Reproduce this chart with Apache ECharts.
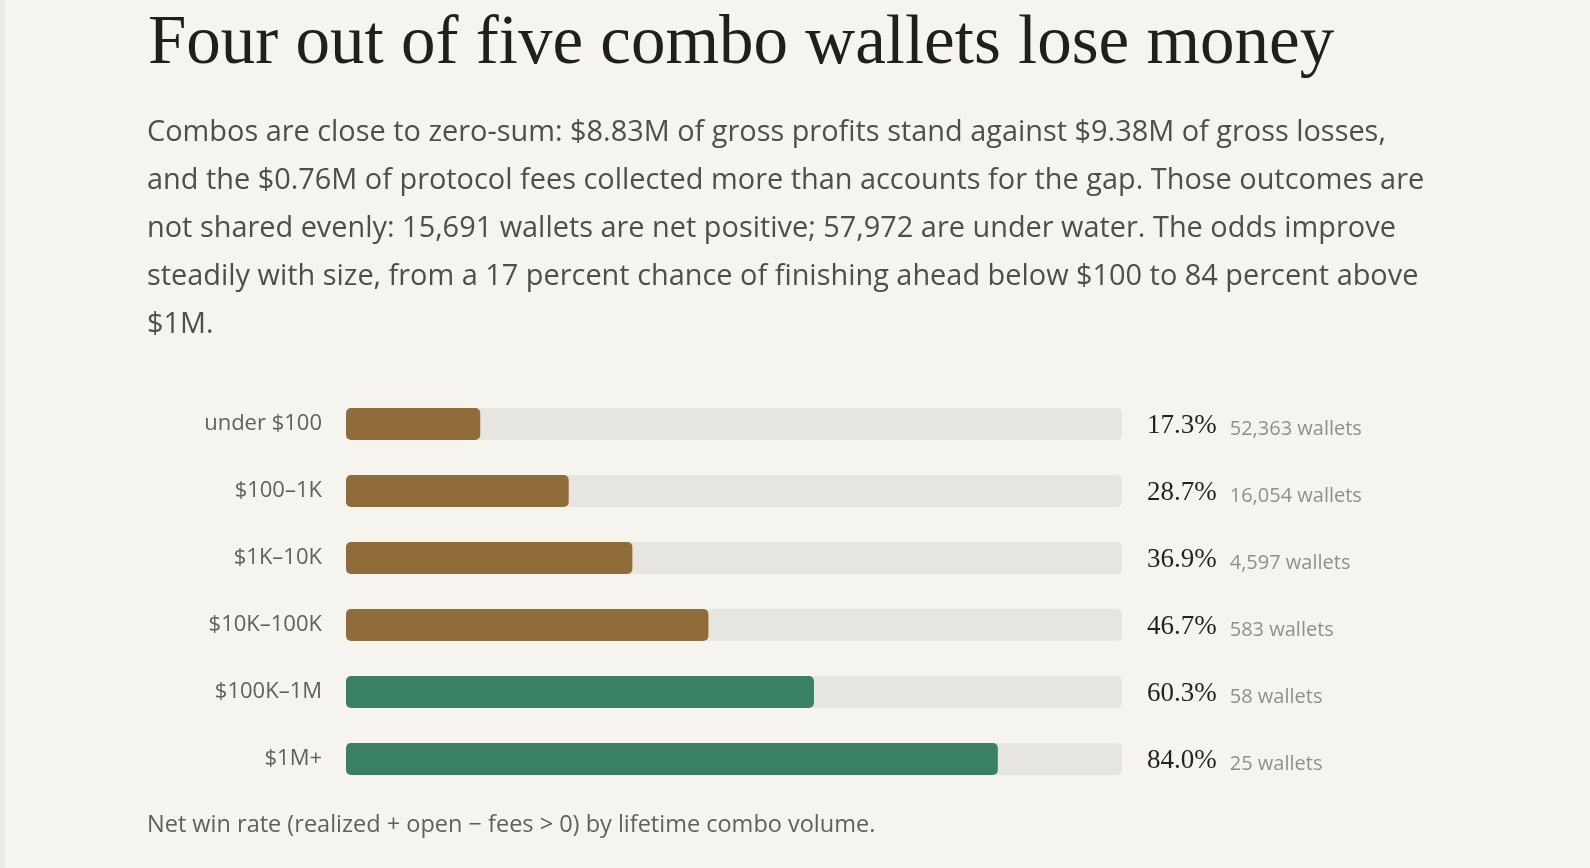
<!DOCTYPE html>
<html>
<head>
<meta charset="utf-8">
<script src="https://cdn.jsdelivr.net/npm/echarts@6/dist/echarts.min.js"></script>
<style>
  html, body { margin: 0; padding: 0; background: #f5f4ef; }
  #chart { width: 1590px; height: 868px; box-shadow: inset 5px 0 0 #ebeae5; }
</style>
</head>
<body>
<div id="chart"></div>
<script>
var categories = ['under $100', '$100–1K', '$1K–10K', '$10K–100K', '$100K–1M', '$1M+'];
var winRates = [17.3, 28.7, 36.9, 46.7, 60.3, 84.0];
var walletCounts = ['52,363', '16,054', '4,597', '583', '58', '25'];

var titleText = 'Four out of five combo wallets lose money';
var bodyLines = [
    'Combos are close to zero-sum: $8.83M of gross profits stand against $9.38M of gross losses,',
    'and the $0.76M of protocol fees collected more than accounts for the gap. Those outcomes are',
    'not shared evenly: 15,691 wallets are net positive; 57,972 are under water. The odds improve',
    'steadily with size, from a 17 percent chance of finishing ahead below $100 to 84 percent above',
    '$1M.'
];
var noteText = 'Net win rate (realized + open − fees > 0) by lifetime combo volume.';

var sans = '"Open Sans", "Noto Sans", sans-serif';
var serif = '"Liberation Serif", serif';

var chart = echarts.init(document.getElementById('chart'));
var option = {
    title: [{
        text: titleText,
        left: 143,
        top: 5,
        textStyle: { fontFamily: serif, fontSize: 69, fontWeight: 'normal', color: '#1c211c' }
    }, {
        text: bodyLines.join('\n'),
        left: 142,
        top: 104,
        textStyle: { fontFamily: sans, fontSize: 28.9, fontWeight: 'normal', color: '#4b504a', lineHeight: 48 }
    }, {
        text: noteText,
        left: 142,
        top: 808,
        textStyle: { fontFamily: sans, fontSize: 23.5, fontWeight: 'normal', color: '#5d625b' }
    }],
    grid: {
        left: 346,
        right: 468,
        top: 390.5,
        height: 402,
        containLabel: false
    },
    xAxis: {
        type: 'value',
        min: 0,
        max: 100,
        show: false
    },
    yAxis: [{
        type: 'category',
        data: categories,
        inverse: true,
        axisLine: { show: false },
        axisTick: { show: false },
        axisLabel: { margin: 24, fontFamily: sans, fontSize: 22, color: '#5d625b' }
    }, {
        type: 'category',
        position: 'right',
        data: categories,
        inverse: true,
        axisLine: { show: false },
        axisTick: { show: false },
        axisLabel: {
            margin: 25,
            align: 'left',
            padding: [3, 0, 0, 0],
            formatter: function (val, i) {
                return '{p|' + winRates[i].toFixed(1) + '%}{w|' + walletCounts[i] + ' wallets}';
            },
            rich: {
                p: { fontFamily: serif, fontSize: 27, lineHeight: 27, color: '#1f241f', verticalAlign: 'bottom' },
                w: { fontFamily: sans, fontSize: 20, lineHeight: 20, color: '#8e918b', verticalAlign: 'bottom', padding: [0, 0, 0, 13] }
            }
        }
    }],
    series: [{
        type: 'bar',
        data: winRates,
        barWidth: 32,
        showBackground: true,
        backgroundStyle: { color: '#e6e5df', borderRadius: 5 },
        itemStyle: {
            borderRadius: 5,
            color: function (p) { return p.value > 50 ? '#3a8062' : '#916c3b'; }
        },
        silent: true,
        animation: false
    }]
};
chart.setOption(option);
</script>
</body>
</html>
